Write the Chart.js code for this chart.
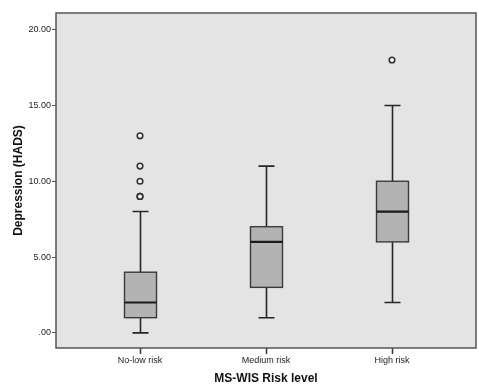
<!DOCTYPE html>
<html>
<head>
<meta charset="utf-8">
<script src="https://cdn.jsdelivr.net/npm/chart.js@4/dist/chart.umd.min.js"></script>
<style>
  body { margin: 0; background: #fff; }
  #wrap { width: 479px; height: 386px; }
</style>
</head>
<body>
<div id="wrap"><canvas id="boxChart" width="479" height="386"></canvas></div>
<script>
// data
const categories = ["No-low risk", "Medium risk", "High risk"];
const whiskerLow = [0, 1, 2];
const q1 = [1, 3, 6];
const median = [2, 6, 8];
const q3 = [4, 7, 10];
const whiskerHigh = [8, 11, 15];
const outliers = [[9, 9, 10, 11, 13], [], [18]];
const yTicks = [0, 5, 10, 15, 20];

const font = "'Liberation Sans', Arial, sans-serif";

// outlier points as a scatter dataset
let outlierPoints = [];
outliers.forEach((list, i) => {
  list.forEach(v => outlierPoints.push({ x: i + 1, y: v }));
});

// boxes + whiskers + medians, drawn through the chart scales
const boxPlugin = {
  id: "boxPlugin",
  beforeDraw(chart) {
    const { ctx, chartArea: a } = chart;
    ctx.save();
    ctx.fillStyle = "#e4e4e4";
    ctx.fillRect(a.left, a.top, a.right - a.left, a.bottom - a.top);
    ctx.restore();
  },
  beforeDatasetsDraw(chart) {
    const { ctx, scales } = chart;
    const xs = scales.x, ys = scales.y;
    const boxW = 32, capW = 16;
    ctx.save();
    categories.forEach((c, i) => {
      const cx = Math.round(xs.getPixelForValue(i + 1)) + 0.5;
      const yLo = ys.getPixelForValue(whiskerLow[i]);
      const yQ1 = ys.getPixelForValue(q1[i]);
      const yMed = ys.getPixelForValue(median[i]);
      const yQ3 = ys.getPixelForValue(q3[i]);
      const yHi = ys.getPixelForValue(whiskerHigh[i]);

      // whiskers
      ctx.strokeStyle = "#262626";
      ctx.lineWidth = 1.6;
      ctx.beginPath();
      ctx.moveTo(cx, yHi); ctx.lineTo(cx, yQ3);
      ctx.moveTo(cx, yQ1); ctx.lineTo(cx, yLo);
      ctx.moveTo(cx - capW / 2, yHi); ctx.lineTo(cx + capW / 2, yHi);
      ctx.moveTo(cx - capW / 2, yLo); ctx.lineTo(cx + capW / 2, yLo);
      ctx.stroke();

      // box
      ctx.fillStyle = "#b3b3b3";
      ctx.fillRect(cx - boxW / 2, yQ3, boxW, yQ1 - yQ3);
      ctx.strokeStyle = "#3a3a3a";
      ctx.lineWidth = 1.4;
      ctx.strokeRect(cx - boxW / 2, yQ3, boxW, yQ1 - yQ3);

      // median
      ctx.strokeStyle = "#1a1a1a";
      ctx.lineWidth = 2.2;
      ctx.beginPath();
      ctx.moveTo(cx - boxW / 2, yMed); ctx.lineTo(cx + boxW / 2, yMed);
      ctx.stroke();
    });
    ctx.restore();
  },
  afterDraw(chart) {
    const { ctx, chartArea: a } = chart;
    ctx.save();
    ctx.strokeStyle = "#555";
    ctx.lineWidth = 1.5;
    ctx.strokeRect(a.left, a.top, a.right - a.left, a.bottom - a.top);
    ctx.restore();
  }
};

new Chart(document.getElementById("boxChart"), {
  type: "scatter",
  data: {
    datasets: [{
      label: "Outliers",
      data: outlierPoints,
      pointRadius: 2.8,
      pointBorderWidth: 1.6,
      pointBorderColor: "#333",
      pointBackgroundColor: "#f4f4f4"
    }]
  },
  options: {
    responsive: false,
    devicePixelRatio: 1,
    animation: false,
    layout: { autoPadding: false, padding: { top: 13, right: 3, left: 11, bottom: 0 } },
    plugins: {
      legend: { display: false },
      tooltip: { enabled: false }
    },
    scales: {
      x: {
        type: "linear",
        min: 1 / 3,
        max: 11 / 3,
        afterBuildTicks(scale) { scale.ticks = [1, 2, 3].map(v => ({ value: v })); },
        afterFit(scale) {
          scale.height = 38;
          scale.paddingLeft = 0;
          scale.paddingRight = 0;
        },
        ticks: {
          callback: v => categories[v - 1],
          font: { family: font, size: 9 },
          color: "#222",
          padding: 1,
          maxRotation: 0
        },
        grid: { drawOnChartArea: false, tickLength: 6, tickColor: "#333", tickWidth: 1.5 },
        border: { display: false },
        title: {
          display: true,
          text: "MS-WIS Risk level",
          font: { family: font, size: 12, weight: "bold" },
          color: "#111",
          padding: { top: 4, bottom: 0 }
        }
      },
      y: {
        min: -1,
        max: 21.1,
        afterBuildTicks(scale) { scale.ticks = yTicks.map(v => ({ value: v })); },
        afterFit(scale) { scale.width = 45; },
        ticks: {
          callback: v => v === 0 ? ".00" : v.toFixed(2),
          font: { family: font, size: 9 },
          color: "#222",
          padding: 1
        },
        grid: { drawOnChartArea: false, tickLength: 4, tickColor: "#555", tickWidth: 1 },
        border: { display: false },
        title: {
          display: true,
          text: "Depression (HADS)",
          font: { family: font, size: 12, weight: "bold" },
          color: "#111",
          padding: { top: 0, bottom: 0 }
        }
      }
    }
  },
  plugins: [boxPlugin]
});
</script>
</body>
</html>
